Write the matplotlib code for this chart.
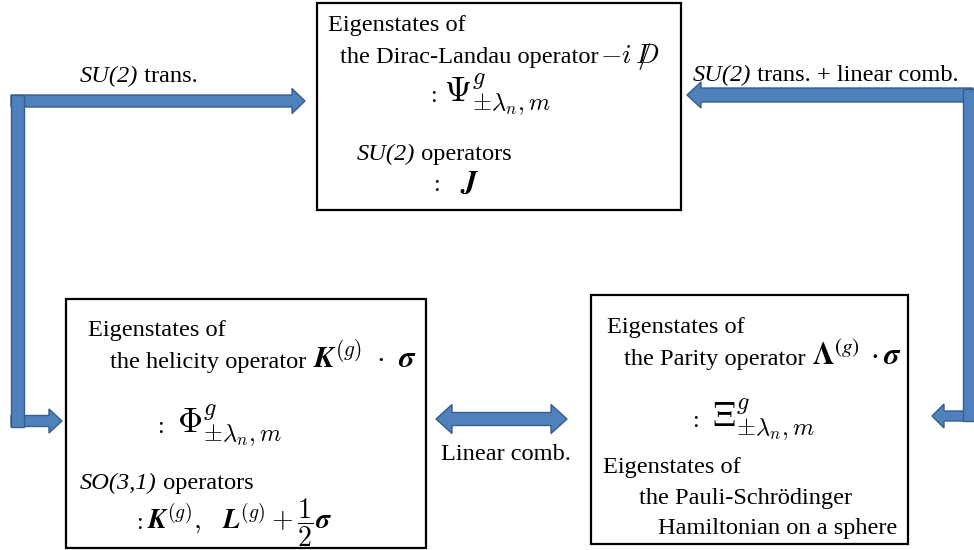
import matplotlib
matplotlib.use("Agg")
import matplotlib.pyplot as plt
from matplotlib.patches import Rectangle, Polygon, FancyArrow

plt.rcParams['mathtext.fontset'] = 'cm'
SERIF = ['Liberation Serif', 'DejaVu Serif']

# ---- text content (pieces: (text, style)) ----
top_box_lines = [
    [("Eigenstates of", 'rm')],
    [("the Dirac-Landau operator", 'rm'), (r"$-i\,D\!\!\!\!\!/$", 'm20')],
    [(":", 'rm'), (r"$\Psi^{g}_{\pm\lambda_n,m}$", 'M25')],
    [("SU(2)", 'it'), (" operators", 'rm')],
    [(":", 'rm'), (r"$\boldsymbol{J}$", 'M22')],
]
left_box_lines = [
    [("Eigenstates of", 'rm')],
    [("the helicity operator", 'rm'),
     (r"$\boldsymbol{K}^{(g)}\;\cdot\;\boldsymbol{\sigma}$", 'm22')],
    [(":", 'rm'), (r"$\Phi^{g}_{\pm\lambda_n,m}$", 'M25')],
    [("SO(3,1)", 'it'), (" operators", 'rm')],
    [(":", 'rm'),
     (r"$\boldsymbol{K}^{(g)},\ \ \boldsymbol{L}^{(g)}+\dfrac{1}{2}\boldsymbol{\sigma}$", 'm20')],
]
right_box_lines = [
    [("Eigenstates of", 'rm')],
    [("the Parity operator", 'rm'),
     (r"$\mathbf{\Lambda}^{(g)}\;\cdot\boldsymbol{\sigma}$", 's22')],
    [(":", 'rm'), (r"$\Xi^{g}_{\pm\lambda_n,m}$", 'M25')],
    [("Eigenstates of", 'rm')],
    [("the Pauli-Schrödinger", 'rm')],
    [("Hamiltonian on a sphere", 'rm')],
]
arrow_labels = [
    [("SU(2)", 'it'), (" trans.", 'rm')],
    [("SU(2)", 'it'), (" trans. + linear comb.", 'rm')],
    [("Linear comb.", 'rm')],
]

W, H = 974, 550
fig = plt.figure(figsize=(W / 100, H / 100), dpi=100)
ax = fig.add_axes([0, 0, 1, 1])
ax.set_xlim(0, W)
ax.set_ylim(H, 0)
ax.axis('off')
renderer = fig.canvas.get_renderer()

FILL = '#4F81BD'
EDGE = '#385D8A'
FS = 17.6


def box(x0, y0, x1, y1):
    ax.add_patch(Rectangle((x0, y0), x1 - x0, y1 - y0, fill=False,
                           edgecolor='black', linewidth=1.6, zorder=3))


def piece(x, y, s, style):
    kw = dict(ha='left', va='baseline', zorder=4)
    if style == 'rm':
        t = ax.text(x, y, s, fontsize=FS, family=SERIF, **kw)
    elif style == 'it':
        t = ax.text(x, y, s, fontsize=FS, family=SERIF, style='italic', **kw)
    else:
        size = float(style[1:])
        mf = 'stix' if style[0] == 's' else 'cm'
        t = ax.text(x, y, s, fontsize=size, family=SERIF,
                    math_fontfamily=mf, **kw)
    return t


def line(x, y, parts, xs=None, gaps=None):
    """Draw pieces one after another; xs gives absolute x, gaps extra space."""
    cur = x
    for i, (s, style) in enumerate(parts):
        if xs is not None and xs[i] is not None:
            cur = xs[i]
        elif gaps is not None and i > 0:
            cur += gaps[i]
        t = piece(cur, y, s, style)
        bb = t.get_window_extent(renderer)
        cur = cur + bb.width


def arrow(x0, y0, x1, y1, w, hw, hl):
    ax.add_patch(FancyArrow(x0, y0, x1 - x0, y1 - y0, width=w, head_width=hw,
                            head_length=hl, length_includes_head=True,
                            facecolor=FILL, edgecolor=EDGE, linewidth=1.0,
                            zorder=2))


def double_arrow(x0, x1, yc, w, hw, hl):
    pts = [(x0, yc), (x0 + hl, yc - hw / 2), (x0 + hl, yc - w / 2),
           (x1 - hl, yc - w / 2), (x1 - hl, yc - hw / 2), (x1, yc),
           (x1 - hl, yc + hw / 2), (x1 - hl, yc + w / 2),
           (x0 + hl, yc + w / 2), (x0 + hl, yc + hw / 2)]
    ax.add_patch(Polygon(pts, closed=True, facecolor=FILL, edgecolor=EDGE,
                         linewidth=1.0, zorder=2))


def vbar(x0, x1, y0, y1):
    ax.add_patch(Rectangle((x0, y0), x1 - x0, y1 - y0, facecolor=FILL,
                           edgecolor=EDGE, linewidth=1.0, zorder=2.5))


# ---- boxes ----
box(317, 3, 681, 210)
box(66, 299, 426, 548)
box(591, 295, 908, 544)

# ---- arrows ----
arrow(11, 101, 305, 101, 12, 25, 13)
arrow(11, 421, 62, 421, 11, 24, 13)
vbar(11, 24, 95, 427)
arrow(973, 95, 687, 95, 14, 26, 14)
arrow(973, 416, 932, 416, 10, 24, 12)
vbar(963, 976, 89, 421)
double_arrow(436, 567, 419, 13, 29, 16)

# ---- texts ----
# top box
line(328, 31, top_box_lines[0])
line(340, 63, top_box_lines[1], gaps=[0, 1])
line(430, 102, top_box_lines[2], xs=[430, 444])
line(357, 160, top_box_lines[3])
line(433, 191, top_box_lines[4], xs=[433, 460])

# left box
line(88, 336, left_box_lines[0])
line(110, 368, left_box_lines[1], gaps=[0, 7])
line(157, 433, left_box_lines[2], xs=[157, 177])
line(80, 489, left_box_lines[3])
line(136, 529, left_box_lines[4], xs=[136, 147])

# right box
line(607, 333, right_box_lines[0])
line(624, 365, right_box_lines[1], gaps=[0, 6])
line(692, 427, right_box_lines[2], xs=[692, 712])
line(603, 473, right_box_lines[3])
line(639, 504, right_box_lines[4])
line(658, 534, right_box_lines[5])

# arrow labels
line(80, 82, arrow_labels[0])
line(693, 81, arrow_labels[1])
line(441, 460, arrow_labels[2])

fig.savefig('out.png', dpi=100)
